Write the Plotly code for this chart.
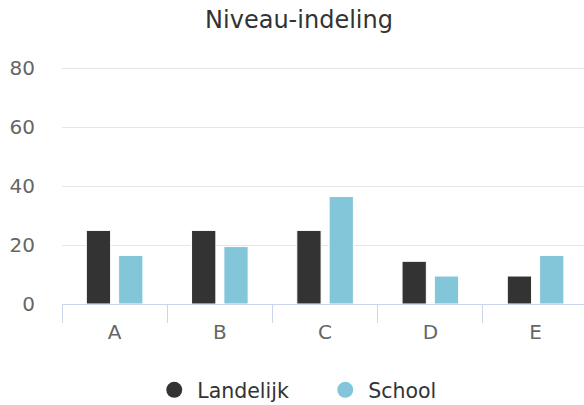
import plotly.graph_objects as go

categories = ["A", "B", "C", "D", "E"]
landelijk = [25, 25, 25, 14.5, 9.5]
school = [16.5, 19.5, 36.5, 9.5, 16.5]
y_ticks = [0, 20, 40, 60, 80]

c_land = "#333333"
c_school = "#84c6d9"
font_family = "DejaVu Sans"

fig = go.Figure()
fig.add_trace(go.Bar(x=categories, y=landelijk, name="Landelijk", marker=dict(color=c_land, line=dict(color="#ffffff", width=1)), showlegend=False))
fig.add_trace(go.Bar(x=categories, y=school, name="School", marker=dict(color=c_school, line=dict(color="#ffffff", width=1)), showlegend=False))
# legend entries with circle symbols
fig.add_trace(go.Scatter(x=[None], y=[None], mode="markers", name="Landelijk", marker=dict(symbol="circle", size=22, color=c_land)))
fig.add_trace(go.Scatter(x=[None], y=[None], mode="markers", name="School", marker=dict(symbol="circle", size=22, color=c_school)))

fig.update_layout(
    width=584, height=405,
    margin=dict(l=62, r=0, t=67, b=101, autoexpand=False),
    paper_bgcolor="#ffffff", plot_bgcolor="#ffffff",
    font=dict(family=font_family, color="#666666", size=20),
    title=dict(text="Niveau-indeling", x=0.512, xanchor="center", y=0.951, yanchor="middle",
               font=dict(size=24, color="#333333", family=font_family)),
    barmode="group", bargap=0.386, bargroupgap=0.248,
    legend=dict(orientation="h", x=0.171, xanchor="left", y=-0.363, yanchor="middle",
                font=dict(size=20.5, color="#333333"), itemsizing="trace", tracegroupgap=0,
                itemwidth=36, entrywidth=120),
    showlegend=True,
)
fig.update_xaxes(type="category", range=[-0.5, 4.46], showline=True, linecolor="#ccd6eb", linewidth=1,
                 ticks="outside", tickson="boundaries", ticklen=18, tickcolor="#ccd6eb", tickwidth=1,
                 showgrid=False, tickfont=dict(size=20, color="#666666"), ticklabelstandoff=10,
                 fixedrange=True, automargin=False)
fig.update_yaxes(range=[0, 80.5], tickvals=y_ticks, showgrid=True, gridcolor="#e6e6e6", gridwidth=1,
                 zeroline=False, showline=False, ticks="", ticklabelstandoff=26,
                 tickfont=dict(size=20, color="#666666"), fixedrange=True, automargin=False)

fig.write_html(
    "out.html",
    config={"displayModeBar": False},
    post_script="document.body.style.margin='0';document.body.style.overflow='hidden';"
                "document.documentElement.style.overflow='hidden';",
)
